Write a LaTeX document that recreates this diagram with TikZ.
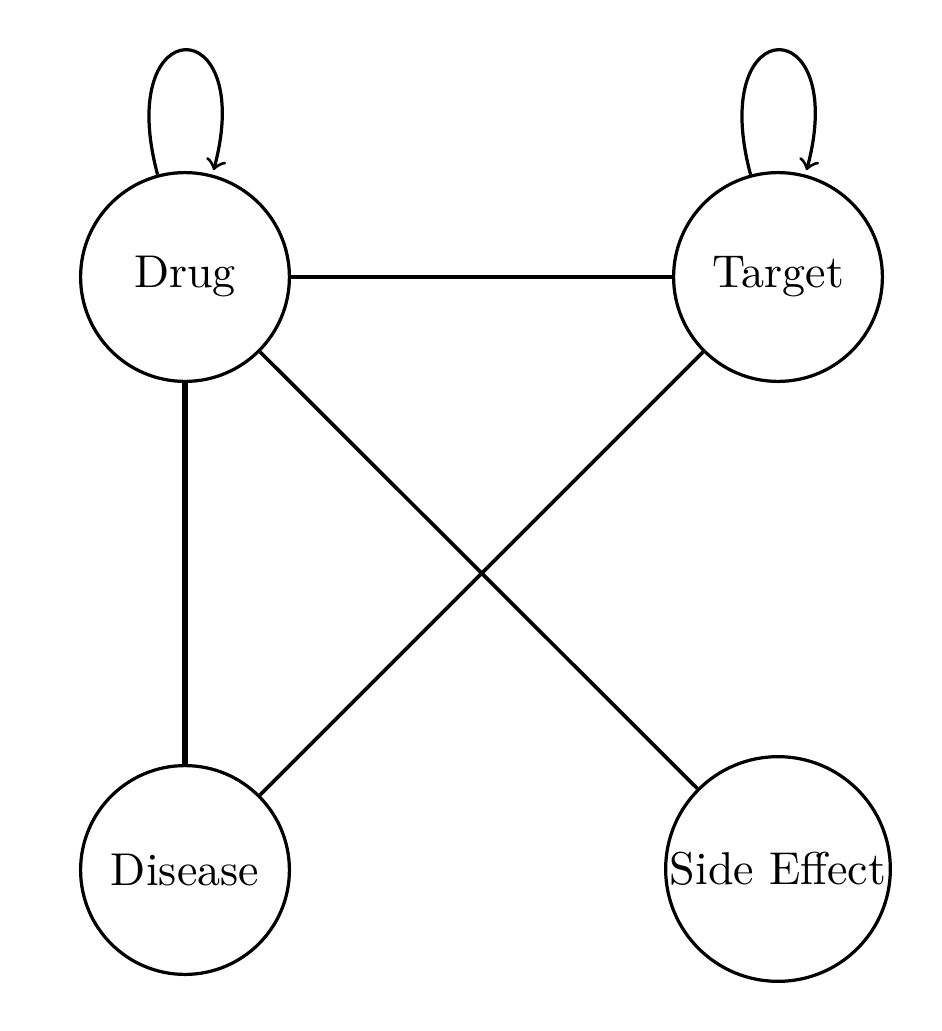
\documentclass[tikz,border=0pt]{standalone}
\begin{document}
\begin{tikzpicture}[x=0.2174pt,y=-0.2174pt,
  ent/.style={draw,circle,line width=0.7pt,minimum size=45.4pt,inner sep=0.6pt,font=\normalsize},
  rel/.style={line width=0.8pt},
  strongrel/.style={line width=1.1pt},
  selfloop/.style={line width=0.7pt,->}]
\useasboundingbox (0,0) rectangle (942,1031);
\node[ent] (drug) at (185,277) {Drug};
\node[ent] (target) at (778,277) {Target};
\node[ent] (disease) at (185,870) {Disease};
\node[ent] (side) at (778,869) {Side Effect};
\draw[rel] (drug) -- (target);
\draw[strongrel] (drug) -- (disease);
\draw[rel] (drug) -- (side);
\draw[rel] (target) -- (disease);
\draw[selfloop] (drug) edge[loop above] (drug);
\draw[selfloop] (target) edge[loop above] (target);
\end{tikzpicture}
\end{document}
